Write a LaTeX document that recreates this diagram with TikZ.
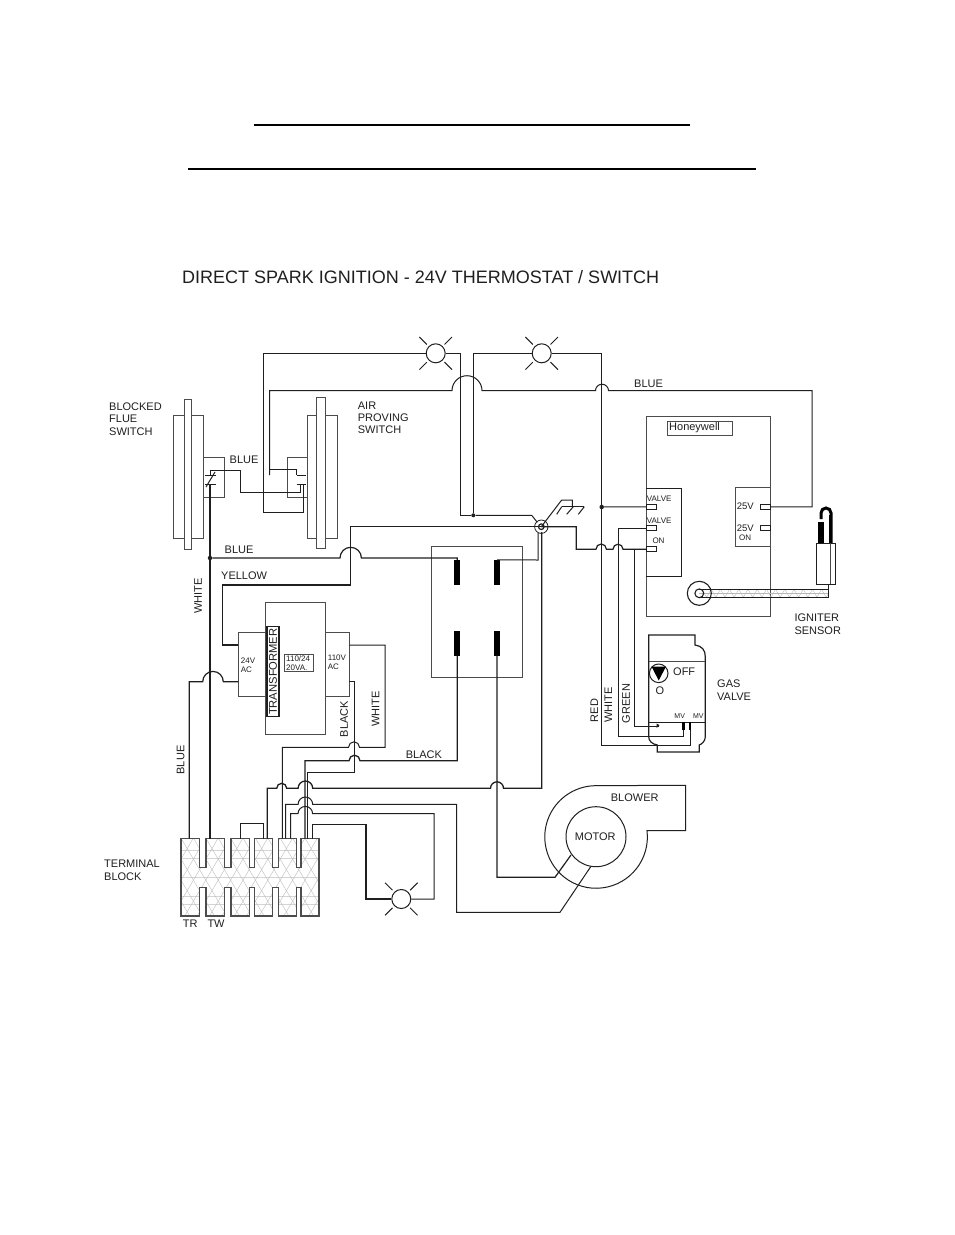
\documentclass[tikz,border=0pt]{standalone}
\usepackage{fontspec}
\setmainfont{Liberation Sans}
\definecolor{ink}{gray}{0.12}
\definecolor{soft}{gray}{0.3}
\definecolor{hatch}{gray}{0.72}
\newcommand{\fsz}[1]{\fontsize{#1}{#1}\selectfont}
\tikzset{
  wire/.style={draw=ink,line width=1pt,line join=miter},
  heavy/.style={draw=ink,line width=1.6pt,line join=miter},
  thinbox/.style={draw=soft,line width=1pt,line join=miter},
  part/.style={draw=soft,line width=1pt,fill=white},
  lbl/.style={font=\fsz{11},inner sep=0pt,anchor=west,text=ink},
  small/.style={font=\fsz{8},inner sep=0pt,anchor=west,text=ink},
  vlbl/.style={font=\fsz{11},inner sep=0pt,rotate=90,text=ink},
  lamp/.style={circle,draw=ink,line width=1pt,minimum size=19pt,inner sep=0pt,fill=white},
  term/.style={draw=ink,line width=1pt,fill=white,minimum width=10pt,minimum height=5pt,inner sep=0pt},
  dotn/.style={circle,fill=ink,inner sep=0pt,minimum size=4.5pt},
  ray/.style={draw=ink,line width=1pt},
  blade/.style={fill=black,draw=none,minimum width=5.8pt,minimum height=25pt,inner sep=0pt},
  hatchline/.style={draw=hatch,line width=.35pt},
}
\begin{document}
\begin{tikzpicture}[x=1pt,y=-1pt]
\useasboundingbox (0,0) rectangle (954,1235);
\fill[white] (0,0) rectangle (954,1235);

% heading rules
\draw[black,line width=2pt] (254,125) -- (690,125);
\draw[black,line width=2pt] (188,169) -- (756,169);
\node[font=\fsz{18},inner sep=0pt,anchor=west,text=ink] (title) at (182,277) {DIRECT SPARK IGNITION - 24V THERMOSTAT / SWITCH};

% named wire points
\coordinate (gnd) at (541.3,526.7);
\coordinate (tA) at (189.3,838.7);
\coordinate (tB) at (210,838.7);
\coordinate (tC1) at (240.3,838.7);
\coordinate (tC2) at (263.3,838.7);
\coordinate (tD) at (267.3,838.7);
\coordinate (tE) at (282.3,838.7);
\coordinate (tF) at (285.7,838.7);
\coordinate (tG) at (290.7,838.7);
\coordinate (tH) at (305,838.7);
\coordinate (tI) at (307.7,838.7);
\coordinate (tJ) at (312.7,838.7);

% switches
\draw[part] (173,415) rectangle (203,538);
\draw[part] (184,399) rectangle (191.5,549);
\draw[part,fill=none] (203,457) -- (224,457) -- (224,497) -- (203,497);
\draw[part] (307.3,415) rectangle (337.7,538);
\draw[part] (316.7,397) rectangle (325.7,548);
\draw[part,fill=none] (307.3,457) -- (287.7,457) -- (287.7,497) -- (307.3,497);

% flue contacts
\draw[wire] (205,475) -- (215.7,475);
\draw[wire] (205,484) -- (215.7,484);
\draw[wire] (206,487) -- (215,472);
% air proving contacts
\draw[wire] (296.7,475) -- (306,475);
\draw[wire] (296.7,484) -- (306,484);

% lamps
\node[lamp] (lampA) at (435.7,353.3) {};
\node[lamp] (lampB) at (541.7,353.3) {};
\node[lamp] (lampC) at (401.3,899) {};
\foreach \l in {lampA,lampB,lampC}{
  \foreach \a in {45,135,225,315}{
    \draw[ray] (\l) ++(\a:12.5pt) -- ++(\a:10.5pt);
  }
}

% Honeywell module
\draw[part] (646.3,416.7) rectangle (770,616);
\node[draw=soft,line width=.9pt,inner sep=0pt,minimum width=65.4pt,minimum height=14.7pt] (hwbox) at (700,428.3) {};
\node[font=\fsz{11},inner sep=0pt,anchor=west,text=ink] (hwtxt) at (669,427.5) {Honeywell};
\draw[draw=ink,line width=1.2pt] (646.3,488.7) -- (681.3,488.7) -- (681.3,576.3) -- (646.3,576.3);
\draw[thinbox] (770,487.3) -- (735.7,487.3) -- (735.7,546.3) -- (770,546.3);
\node[term] (valveA) at (651.7,506.8) {};
\node[term] (valveB) at (651.7,528.2) {};
\node[term] (onA) at (651.7,549.2) {};
\node[term] (vA) at (765,506.8) {};
\node[term] (vB) at (765,528.3) {};
\node[small] (lvA) at (646.7,498.3) {VALVE};
\node[small] (lvB) at (646.7,520.7) {VALVE};
\node[small] (lon) at (652.3,540.7) {ON};
\node[font=\fsz{9.5},inner sep=0pt,anchor=west,text=ink] (l25a) at (736.7,506.7) {25V};
\node[font=\fsz{9.5},inner sep=0pt,anchor=west,text=ink] (l25b) at (736.7,528) {25V};
\node[small] (lonb) at (739,537.7) {ON};

% igniter cable and sensor
\begin{scope}
\clip (699,589.3) rectangle (828,597.3);
\foreach \i in {0,...,13}{
  \draw[hatchline] (702+\i*9.2,589.3) -- (706.6+\i*9.2,597.3) -- (711.2+\i*9.2,589.3);
}
\draw[hatch,line width=.3pt] (699,593.3) -- (828,593.3);
\end{scope}
\draw[wire,line width=1.2pt] (699.3,589.3) -- (828.3,589.3);
\draw[wire,line width=1.2pt] (699.3,597.3) -- (828.3,597.3) -- (828.3,584);
\draw[draw=ink,line width=1.1pt] (699.3,593.3) circle[radius=12pt];
\draw[draw=ink,line width=1.1pt] (699.3,593.3) circle[radius=4.4pt];
\draw[draw=ink,line width=1pt,fill=white] (816,543.3) rectangle (835.3,584.3);
\draw[soft,line width=1pt] (830,543.3) -- (830,584.3);
\draw[black,line width=6pt] (821,543) -- (821,522);
\draw[black,line width=3pt] (821,519) -- (821,513) arc[start angle=180,end angle=0,radius=5pt] -- (831,543);
\draw[black,line width=1pt] (829.7,543) -- (829.7,515);

% gas valve
\draw[draw=ink,line width=1.2pt,fill=white] (648.7,635) -- (695,635) -- (695,645)
   .. controls (702,646) and (705.3,650) .. (705.3,656.7) -- (705.3,736.7)
   .. controls (705.3,741) and (702,744) .. (699.3,745) -- (699.3,752) -- (657.3,752) -- (657.3,745)
   .. controls (652,744) and (648.7,741) .. (648.7,736.7) -- cycle;
\draw[soft,line width=1pt] (648.7,661.3) -- (705.3,661.3);
\draw[ink,line width=1.1pt] (648.7,722.3) -- (705.3,722.3);
\node[circle,draw=ink,line width=1pt,minimum size=18.6pt,inner sep=0pt] (knob) at (658.7,673.3) {};
\fill[black] (651.5,666.5) -- (666,666.5) -- (658.7,680.5) -- cycle;
\node[lbl] (off) at (673,672) {OFF};
\node[font=\fsz{11},inner sep=0pt,text=ink] (ozero) at (660,691) {O};
\node[font=\fsz{7},inner sep=0pt,text=ink] (mvA) at (679.7,715.7) {MV};
\node[font=\fsz{7},inner sep=0pt,text=ink] (mvB) at (698.3,715.7) {MV};
\fill[black] (682.2,722) rectangle (684.8,730);
\fill[black] (688.8,722) rectangle (691.4,730);
\coordinate (mvtA) at (683.5,730);
\coordinate (mvtB) at (690,730);

% transformer
\draw[part] (238.3,632.7) rectangle (265,696.7);
\draw[part] (325,632.7) rectangle (349.3,696.7);
\draw[part] (265,602.7) rectangle (325,734);
\node[draw=ink,line width=1.1pt,inner sep=0pt,minimum width=12pt,minimum height=90pt] (trbox) at (273,671.7) {};
\node[font=\fsz{11.2},inner sep=0pt,rotate=90,text=ink] (trtxt) at (273,671.7) {TRANSFORMER};
\node[draw=soft,line width=1pt,inner sep=0pt,minimum width=29pt,minimum height=16.7pt] (ratebox) at (298.8,663.3) {};
\node[small] (rateA) at (286,659) {110/24};
\node[small] (rateB) at (286,668) {20VA.};
\node[small] (acA) at (240.7,660.7) {24V};
\node[small] (acB) at (240.7,669.3) {AC};
\node[small] (acC) at (327.7,658) {110V};
\node[small] (acD) at (327.7,666.7) {AC};

% relay
\draw[part] (431.7,546) rectangle (522.7,677);
\node[blade] (bladeTL) at (457.3,572.5) {};
\node[blade] (bladeTR) at (497,572.5) {};
\node[blade] (bladeBL) at (457.3,643) {};
\node[blade] (bladeBR) at (497,643) {};

% blower
\draw[draw=ink,line width=1pt] (647,830.7) arc[start angle=7,end angle=-270,radius=51.3pt] -- (685.7,785.3) -- (685.7,830.7) -- cycle;
\node[circle,draw=ink,line width=1pt,minimum size=60pt,inner sep=0pt] (motor) at (596,836.7) {};
\coordinate (mA) at (571,855);
\coordinate (mB) at (590.7,866.7);
\node[lbl] (lblow) at (610.7,797.7) {BLOWER};
\node[font=\fsz{11},inner sep=0pt,text=ink] (lmot) at (595.3,837) {MOTOR};

% terminal block
\def\tbpath{(181,838.7) -- (199.3,838.7) -- (199.3,867.7) -- (206,867.7) -- (206,838.7) -- (224.3,838.7) -- (224.3,867.7) -- (231,867.7) -- (231,838.7) -- (249.3,838.7) -- (249.3,867.7) -- (254.3,867.7) -- (254.3,838.7) -- (272.7,838.7) -- (272.7,867.7) -- (278.3,867.7) -- (278.3,838.7) -- (296.7,838.7) -- (296.7,867.7) -- (301,867.7) -- (301,838.7) -- (319,838.7) -- (319,916) -- (301,916) -- (301,887.3) -- (296.7,887.3) -- (296.7,916) -- (278.3,916) -- (278.3,887.3) -- (272.7,887.3) -- (272.7,916) -- (254.3,916) -- (254.3,887.3) -- (249.3,887.3) -- (249.3,916) -- (231,916) -- (231,887.3) -- (224.3,887.3) -- (224.3,916) -- (206,916) -- (206,887.3) -- (199.3,887.3) -- (199.3,916) -- (181,916) -- cycle}
\begin{scope}
\clip \tbpath;
\foreach \i in {-8,...,24}{
  \draw[hatchline] (181+\i*12.4,838) -- (181+\i*12.4+46.5,917);
  \draw[hatchline] (181+\i*12.4,838) -- (181+\i*12.4-46.5,917);
}
\foreach \y in {850,858,877,896,904}{
  \draw[hatch,line width=.3pt,opacity=.6] (181,\y) -- (319,\y);
}
\end{scope}
\draw[draw=soft,line width=1.1pt] \tbpath;

% wiring: top loop
\draw[wire] (lampA.west) -- (263,353.3) -- (263,512) -- (303.5,512) -- (303.5,484);
\draw[wire] (269.5,475) -- (269.5,390.7) -- (452,390.7) arc[start angle=180,end angle=0,radius=15pt]
   -- (595.5,390.7) arc[start angle=180,end angle=0,radius=6.5pt]
   -- (812,390.7) -- (812,506.8) -- (vA.east);
\draw[wire] (269.5,475) -- (269.5,469) -- (296.7,469) -- (296.7,475);
\draw[wire] (300.7,484) -- (300.7,492) -- (240.3,492) -- (240.3,470) -- (210,470) -- (210,475);
\draw[heavy] (210,484) -- (tB);
\node[dotn] (jA) at (210,558) {};

% blue to relay
\draw[wire,line width=1.2pt] (jA) -- (340,558) arc[start angle=180,end angle=0,radius=10.7pt] -- (457.3,558) -- (bladeTL.north);
% yellow
\draw[wire,line width=1.3pt] (238.3,645) -- (222.3,645) -- (222.3,585) -- (350.7,585) -- (350.7,526.7) -- (gnd);

% lamps to ground point
\node[dotn,minimum size=4pt] (jB) at (473.3,515.3) {};
\draw[wire] (lampA.east) -- (460,353.3) -- (460,515.3) -- (jB);
\draw[wire,line width=1.2pt] (jB) -- (473.3,353.3) -- (lampB.west);
\draw[wire] (jB) -- (531.7,515.3) -- (537.3,522.3);
\draw[wire] (lampB.east) -- (601.7,353.3) -- (601.7,745.7) -- (690,745.7) -- (mvtB);
\node[dotn] (jC) at (601.7,507) {};
\draw[wire] (jC) -- (valveA.west);

% ground symbol
\draw[wire] (gnd) -- (561.7,500) -- (572.3,500) -- (572.3,506.7);
\draw[wire] (561.7,506.7) -- (584.3,506.7);
\draw[wire] (561.7,506.7) -- (556.7,514.3);
\draw[wire] (573.3,506.7) -- (566.7,514.3);
\draw[wire] (584.3,506.7) -- (578.3,514.3);
\draw[wire,line width=.8pt] (gnd) circle[radius=6.7pt];
\draw[wire,line width=1.2pt] (gnd) circle[radius=2.8pt];
% ON wire
\draw[wire,line width=1.2pt] (gnd) -- (576.3,526.7) -- (576.3,549.2) -- (596,549.2) arc[start angle=180,end angle=0,radius=5.2pt] -- (613,549.2) arc[start angle=180,end angle=0,radius=5pt] -- (onA.west);
\draw[wire] (618.3,736) -- (618.3,528.2) -- (valveB.west);
\draw[wire] (618.3,736) -- (683.5,736) -- (mvtA);
\draw[wire] (634.3,549.2) -- (634.3,726) -- (659,726);
\fill[ink] (659.5,725) -- (656.5,723.5) -- (656.5,728) -- cycle;

% relay wires
\draw[wire] (bladeTR.north) -- (538,560) -- (538,533);
\draw[heavy,line width=1.3pt] (541.7,532) -- (541.7,788.3) -- (503.5,788.3) arc[start angle=0,end angle=180,radius=6.5pt] -- (312.7,788.3) arc[start angle=0,end angle=180,radius=7.3pt] -- (286.7,788.3) arc[start angle=0,end angle=180,radius=5pt] -- (267.3,788.3) -- (tD);
\draw[heavy,line width=1.3pt] (bladeBL.south) -- (457.3,760.7) -- (360,760.7) arc[start angle=0,end angle=180,radius=5.5pt] -- (305,760.7) -- (tH);
\draw[wire,line width=1.2pt] (bladeBR.south) -- (497,877.3) -- (555,877.3) -- (mA);

% transformer wires
\draw[wire] (349.3,645) -- (385,645) -- (385,747.3) -- (359.5,747.3) arc[start angle=0,end angle=180,radius=5.5pt] -- (282.3,747.3) -- (tE);
\draw[wire,line width=1.3pt] (349.3,681.7) -- (354.3,681.7) -- (354.3,772.7) -- (307.7,772.7) -- (tI);
\draw[wire,line width=1.2pt] (tA) -- (189.3,681.7) -- (202.7,681.7) arc[start angle=180,end angle=0,radius=10.3pt] -- (238.3,681.7);

% motor wires
\draw[wire] (mB) -- (560,912.3) -- (456.7,912.3) -- (456.7,804.3) -- (312.7,804.3) arc[start angle=0,end angle=180,radius=7.3pt] -- (285.7,804.3) -- (tF);
% lamp C
\draw[wire] (tG) -- (290.7,813.7) -- (298,813.7) arc[start angle=180,end angle=0,radius=7.3pt] -- (434,813.7) -- (434,899) -- (lampC.east);
\draw[wire,line width=1.2pt] (lampC.west) -- (366,899) -- (366,824.3) -- (312.7,824.3) -- (tJ);
% jumper
\draw[wire] (tC1) -- (240.3,823.3) -- (263.3,823.3) -- (tC2);

% labels
\node[lbl] (l1) at (109,406.7) {BLOCKED};
\node[lbl] (l2) at (109,419) {FLUE};
\node[lbl] (l3) at (109,431.7) {SWITCH};
\node[lbl] (l4) at (357.7,406) {AIR};
\node[lbl] (l5) at (357.7,417.7) {PROVING};
\node[lbl] (l6) at (357.7,430) {SWITCH};
\node[lbl] (l7) at (229.5,460) {BLUE};
\node[lbl] (l8) at (224.5,549.3) {BLUE};
\node[lbl] (l9) at (221,575.5) {YELLOW};
\node[lbl] (l10) at (634,383.3) {BLUE};
\node[lbl] (l11) at (405.7,754.3) {BLACK};
\node[lbl] (l12) at (794.3,617.7) {IGNITER};
\node[lbl] (l13) at (794.3,630.7) {SENSOR};
\node[lbl] (l14) at (717,684) {GAS};
\node[lbl] (l15) at (717,697) {VALVE};
\node[lbl] (l16) at (104,864) {TERMINAL};
\node[lbl] (l17) at (104,877) {BLOCK};
\node[lbl] (l18) at (182.7,923.5) {TR};
\node[lbl] (l19) at (207.3,924) {TW};
\node[vlbl] (v1) at (198,596) {WHITE};
\node[vlbl] (v2) at (180.7,760) {BLUE};
\node[vlbl] (v3) at (344,719) {BLACK};
\node[vlbl] (v4) at (375.7,709) {WHITE};
\node[vlbl] (v5) at (594.3,710.5) {RED};
\node[vlbl] (v6) at (608.3,705) {WHITE};
\node[vlbl] (v7) at (626,703.5) {GREEN};
\end{tikzpicture}
\end{document}
